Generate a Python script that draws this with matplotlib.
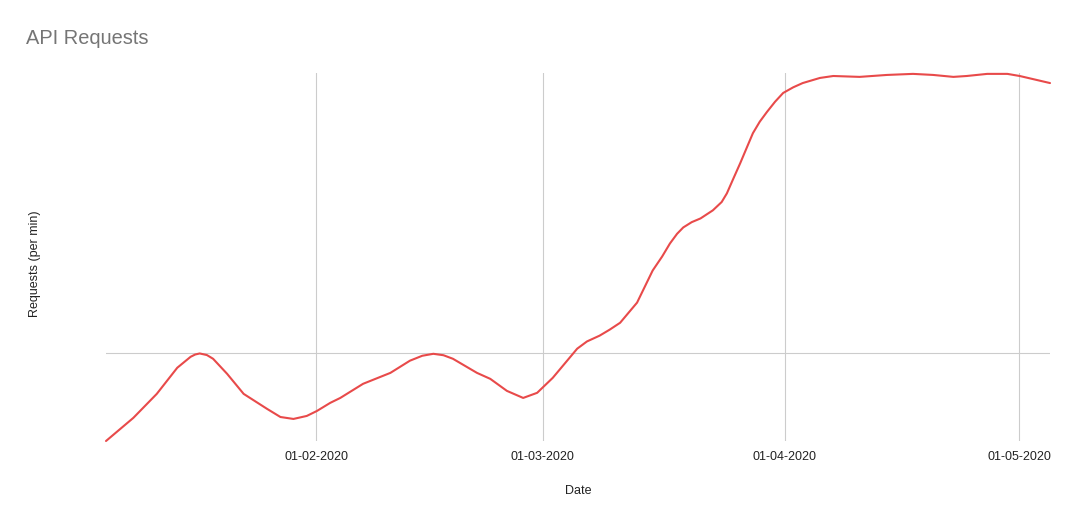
#!/usr/bin/env python3

import numpy as np
import pandas as pd
import matplotlib
matplotlib.use( 'Agg' )
import matplotlib.pyplot as plt
import matplotlib.dates as mdates

# values
dates = [
    '2020-01-05 02:00', '2020-01-08 14:00', '2020-01-11 14:00', '2020-01-14 05:00',
    '2020-01-15 22:00', '2020-01-16 12:00', '2020-01-17 02:00', '2020-01-18 00:00',
    '2020-01-18 19:00', '2020-01-20 14:00', '2020-01-22 17:00', '2020-01-25 17:00',
    '2020-01-27 10:00', '2020-01-29 02:00', '2020-01-30 19:00', '2020-02-01 02:00',
    '2020-02-02 19:00', '2020-02-04 02:00', '2020-02-07 00:00', '2020-02-10 12:00',
    '2020-02-13 00:00', '2020-02-14 14:00', '2020-02-16 00:00', '2020-02-17 07:00',
    '2020-02-18 12:00', '2020-02-21 14:00', '2020-02-23 07:00', '2020-02-25 10:00',
    '2020-02-27 12:00', '2020-02-29 07:00', '2020-03-02 07:00', '2020-03-05 10:00',
    '2020-03-06 16:00', '2020-03-08 07:00', '2020-03-09 14:00', '2020-03-10 22:00',
    '2020-03-13 02:00', '2020-03-14 02:00', '2020-03-15 02:00', '2020-03-16 07:00',
    '2020-03-17 07:00', '2020-03-18 05:00', '2020-03-19 00:00', '2020-03-20 02:00',
    '2020-03-21 05:00', '2020-03-22 19:00', '2020-03-23 22:00', '2020-03-24 14:00',
    '2020-03-25 10:00', '2020-03-26 07:00', '2020-03-27 02:00', '2020-03-27 22:00',
    '2020-03-28 19:00', '2020-03-29 17:00', '2020-03-30 18:00', '2020-03-31 19:00',
    '2020-04-02 02:00', '2020-04-03 07:00', '2020-04-05 12:00', '2020-04-07 05:00',
    '2020-04-10 14:00', '2020-04-14 02:00', '2020-04-17 10:00', '2020-04-20 00:00',
    '2020-04-22 14:00', '2020-04-24 07:00', '2020-04-26 22:00', '2020-04-29 12:00',
    '2020-05-01 02:00', '2020-05-04 23:00',
]
requests = [
    0.0, 13.1, 26.7, 41.5,
    47.7, 49.0, 49.6, 48.7,
    46.6, 38.1, 26.7, 18.2,
    13.6, 12.5, 14.2, 17.0,
    21.6, 24.4, 32.4, 38.6,
    45.5, 48.3, 49.4, 48.6,
    46.6, 38.6, 35.2, 28.4,
    24.4, 27.3, 35.8, 52.3,
    56.4, 59.7, 63.1, 67.0,
    78.4, 87.5, 96.6, 104.5,
    111.9, 117.4, 121.0, 124.0,
    126.1, 130.7, 135.4, 140.3,
    148.7, 157.4, 165.7, 174.4,
    180.9, 186.4, 192.2, 197.2,
    200.4, 202.8, 205.7, 206.8,
    206.3, 207.4, 208.0, 207.4,
    206.3, 206.8, 208.0, 208.0,
    206.8, 202.8,
]
xTicks = [ '2020-02-01', '2020-03-01', '2020-04-01', '2020-05-01' ]
yTicks = [ 50 ]

plt.rcParams['font.family'] = [ 'Liberation Sans', 'DejaVu Sans' ]

x = pd.to_datetime( dates )
fig = plt.figure( figsize = ( 10.77, 5.20 ), dpi = 100 )
ax = fig.add_axes( [ 106 / 1077, 1 - 441 / 520, ( 1050 - 106 ) / 1077, ( 441 - 73 ) / 520 ] )

ax.plot( x, requests, color = '#e84a4a', linewidth = 1.5, clip_on = False,
         solid_capstyle = 'round', solid_joinstyle = 'round', zorder = 3 )

ax.set_xlim( x[0], x[-1] )
ax.set_ylim( 0, 208.5 )

ax.set_xticks( pd.to_datetime( xTicks ) )
ax.xaxis.set_major_formatter( mdates.DateFormatter( '%d-%m-%Y' ) )
ax.set_yticks( yTicks )
ax.set_yticklabels( [] )
ax.tick_params( axis = 'both', length = 0, labelsize = 9, colors = '#222222', pad = 7 )

ax.grid( True, color = '#cccccc', linewidth = 0.8 )
ax.set_axisbelow( True )
for spine in ax.spines.values():
    spine.set_visible( False )

ax.set_xlabel( 'Date', fontsize = 9, color = '#222222', labelpad = 16 )
fig.text( 35 / 1077, 1 - 264 / 520, 'Requests (per min)', rotation = 90,
          ha = 'center', va = 'center', fontsize = 9, color = '#222222' )
fig.text( 26 / 1077, 1 - 38 / 520, 'API Requests', ha = 'left', va = 'center',
          fontsize = 14.4, color = '#757575' )

fig.savefig( 'out.png', dpi = 100 )
